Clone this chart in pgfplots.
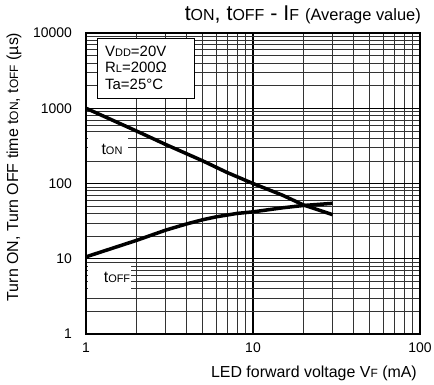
\documentclass[border=0pt]{standalone}
\usepackage{pgfplots}
\pgfplotsset{compat=1.18}
\usepackage{fontspec}
\setmainfont{Liberation Sans}
\newcommand\bsub[1]{{\fontsize{11}{11}\selectfont #1}}
\newcommand\ysub[1]{{\fontsize{12}{12}\selectfont #1}}
\newcommand\tsub[1]{{\fontsize{16}{16}\selectfont #1}}
\begin{document}
\fontsize{15}{17}\selectfont
\begin{tikzpicture}
\begin{axis}[
  at={(0,0)}, anchor=south west,
  scale only axis, width=334bp, height=301bp,
  xmode=log, ymode=log,
  xmin=1, xmax=100, ymin=1, ymax=10000,
  xtick={1,10,100}, xticklabels={1,10,100},
  ytick={1,10,100,1000,10000}, yticklabels={1,10,100,1000,10000},
  minor xtick={2,3,4,5,6,7,8,9,20,30,40,50,60,70,80,90},
  minor ytick={2,3,4,5,6,7,8,9,20,30,40,50,60,70,80,90,200,300,400,500,600,700,800,900,2000,3000,4000,5000,6000,7000,8000,9000},
  grid=both,
  major grid style={black, line width=1.1bp},
  minor grid style={black!80, line width=0.6bp},
  major tick length=0pt, minor tick length=0pt,
  axis line style={line width=2.4bp},
  /pgf/number format/assume math mode=true,
  ticklabel style={font=\fontsize{14}{16}\selectfont},
  xticklabel style={yshift=-4bp},
  yticklabel style={xshift=-9bp},
  clip=false,
]
\addplot[black, line width=3.5bp] coordinates {
 (1,1000) (2,500) (3,330) (5,200) (7,140) (10,100) (15,70) (20,52) (30,38.5)};
\addplot[black, line width=3.5bp] coordinates {
 (1,10.6) (2,17.5) (3,24) (4,29) (5,33) (6,36) (8,40) (10,42) (15,47.5) (20,51) (30,54.5)};
\end{axis}
% condition box
\draw[fill=white, line width=0.7bp] (11bp,236bp) rectangle (108bp,296bp);
\node[anchor=base west, inner sep=0pt] at (19bp,277bp) {V\bsub{DD}=20V};
\node[anchor=base west, inner sep=0pt] at (19bp,261bp) {R\bsub{L}=200Ω};
\node[anchor=base west, inner sep=0pt] at (19bp,244bp) {Ta=25°C};
% curve labels
\fill[white] (2bp,173bp) rectangle (42bp,197bp);
\node[inner sep=0pt] at (26bp,185bp) {\fontsize{16}{16}\selectfont t\bsub{ON}};
\fill[white] (2bp,44bp) rectangle (45bp,71bp);
\node[inner sep=0pt] at (31bp,57bp) {\fontsize{16}{16}\selectfont t\bsub{OFF}};
% title
\node[anchor=base east, inner sep=0pt] at (335bp,313bp) {\fontsize{21.5}{22}\selectfont t\tsub{ON}, t\tsub{OFF} - I\tsub{F} {\fontsize{16.5}{17}\selectfont(Average value)}};
% labels
\node[anchor=base east, inner sep=0pt] at (331bp,-43bp) {\fontsize{16}{18}\selectfont LED forward voltage V{\fontsize{12}{12}\selectfont F} (mA)};
\node[rotate=90, inner sep=0pt] at (-72bp,167bp) {\fontsize{16}{18}\selectfont Turn ON, Turn OFF time t\ysub{ON}, t\ysub{OFF} (µs)};
\pgfresetboundingbox
\path[use as bounding box] (-86bp,-51bp) rectangle (348bp,334bp);
\end{tikzpicture}
\end{document}
